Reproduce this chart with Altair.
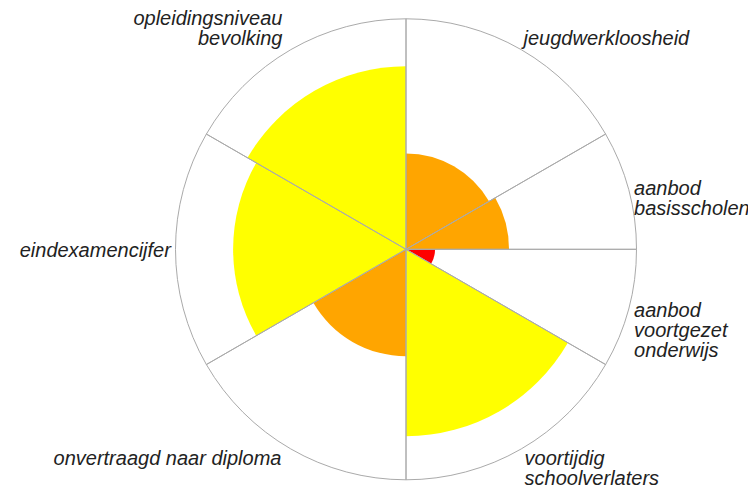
import math
import altair as alt
import pandas as pd

# ---- data ----
categories = [
    "jeugdwerkloosheid",
    "aanbod basisscholen",
    "aanbod voortgezet onderwijs",
    "voortijdig schoolverlaters",
    "onvertraagd naar diploma",
    "eindexamencijfer",
    "opleidingsniveau bevolking",
]
start_deg = [0, 60, 90, 120, 180, 240, 300]
end_deg = [60, 90, 120, 180, 240, 300, 360]
scores = [41.6, 44.7, 12.6, 81.1, 46.4, 75.0, 79.4]
levels = ["midden", "midden", "laag", "hoog", "midden", "hoog", "hoog"]
label_lines = [
    ["jeugdwerkloosheid"],
    ["aanbod", "basisscholen"],
    ["aanbod", "voortgezet", "onderwijs"],
    ["voortijdig", "schoolverlaters"],
    ["onvertraagd naar diploma"],
    ["eindexamencijfer"],
    ["opleidingsniveau", "bevolking"],
]
level_names = ["laag", "midden", "hoog"]
level_colors = ["#ff0000", "#ffa500", "#ffff00"]
scale_max = 100

df = pd.DataFrame({
    "categorie": categories,
    "start": start_deg,
    "end": end_deg,
    "score": scores,
    "level": levels,
    "label": ["\n".join(l) for l in label_lines],
})
df["mid"] = (df["start"] + df["end"]) / 2
df["outer"] = scale_max
df["labelpos"] = scale_max * 1.02

theta_scale = alt.Scale(domain=[0, 360], range=[0, 2 * math.pi])
r_scale = alt.Scale(type="linear", domain=[0, scale_max], range=[0, 230.5], zero=True)
cx = alt.value(398)
cy = alt.value(241.3)

base = alt.Chart(df)

sectors = base.mark_arc().encode(
    theta=alt.Theta("start:Q", scale=theta_scale, stack=None),
    theta2="end:Q",
    radius=alt.Radius("score:Q", scale=r_scale),
    color=alt.Color("level:N", scale=alt.Scale(domain=level_names, range=level_colors), legend=None),
    x=cx,
    y=cy,
)

outline = base.mark_arc(fillOpacity=0, stroke="#aaaaaa", strokeWidth=1).encode(
    theta=alt.Theta("start:Q", scale=theta_scale, stack=None),
    theta2="end:Q",
    radius=alt.Radius("outer:Q", scale=r_scale),
    x=cx,
    y=cy,
)


def labels(expr, align, baseline, dx, dy):
    return base.transform_filter(expr).mark_text(
        align=align,
        baseline=baseline,
        dx=dx,
        dy=dy,
        font="Liberation Sans",
        fontSize=20,
        fontStyle="italic",
        color="#222222",
        lineBreak="\n",
        lineHeight=20,
    ).encode(
        theta=alt.Theta("mid:Q", scale=theta_scale, stack=None),
        radius=alt.Radius("labelpos:Q", scale=r_scale),
        text="label:N",
        x=cx,
        y=cy,
    )


top_right = labels("datum.mid <= 45", "left", "bottom", 0, 3)
top_left = labels("datum.mid >= 315", "right", "bottom", -6, -17)
side_right = labels("datum.mid > 45 && datum.mid < 135", "left", "alphabetic", 1, 7)
side_left = labels("datum.mid > 225 && datum.mid < 315", "right", "alphabetic", 0, 8)
bottom_right = labels("datum.mid >= 135 && datum.mid < 180", "left", "top", 1, -4)
bottom_left = labels("datum.mid >= 180 && datum.mid <= 225", "right", "top", -7, -4)

chart = alt.layer(
    sectors, outline, top_right, top_left, side_right, side_left, bottom_right, bottom_left
).properties(
    width=740,
    height=478,
    autosize=alt.AutoSizeParams(type="none"),
    padding=0,
).configure_view(stroke=None)

chart.save("out.html", embed_options={"renderer": "svg", "actions": False})
